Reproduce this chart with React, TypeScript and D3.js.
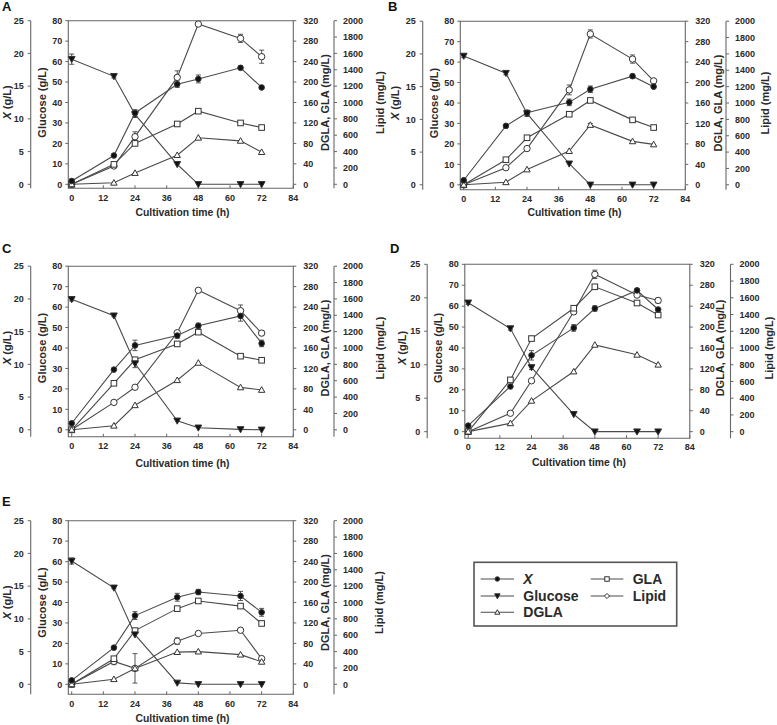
import React from 'react';
import * as d3 from 'd3';

const PANEL_LABELS = ['A', 'B', 'C', 'D', 'E'];
const TIME_H = [0, 16, 24, 40, 48, 64, 72];
const TIME_TICKS = [0, 12, 24, 36, 48, 60, 72, 84];
const X_TICKS = [0, 5, 10, 15, 20, 25];
const GLUCOSE_TICKS = [0, 10, 20, 30, 40, 50, 60, 70, 80];
const FA_TICKS = [0, 40, 80, 120, 160, 200, 240, 280, 320];
const LIPID_TICKS = [0, 200, 400, 600, 800, 1000, 1200, 1400, 1600, 1800, 2000];

// Biomass X (g/L), one row per panel A..E
const X_BIOMASS = [
  [0.5, 4.4, 10.9, 15.3, 16.1, 17.8, 14.8],
  [0.7, 9.0, 11.0, 12.6, 14.6, 16.6, 15.0],
  [1.0, 9.2, 12.9, 14.4, 15.9, 17.4, 13.2],
  [0.9, 6.75, 11.4, 15.5, 18.4, 21.1, 18.25],
  [0.6, 5.6, 10.5, 13.3, 14.1, 13.5, 11.0],
];
const X_ERR = [
  [0.3, 0, 0.5, 0.5, 0.6, 0.3, 0],
  [0, 0, 0.4, 0.5, 0.5, 0.3, 0],
  [0, 0, 0.8, 0.4, 0.4, 0.8, 0.5],
  [0, 0, 0.7, 0.5, 0.4, 0.3, 0],
  [0, 0, 0.6, 0.6, 0.4, 0.7, 0.6],
];
// Glucose (g/L)
const GLUCOSE = [
  [61.2, 52.8, 34.2, 9.8, 0, 0, 0],
  [63.0, 54.6, 34.9, 10.3, 0, 0, 0],
  [63.8, 55.8, 32.4, 4.4, 1.0, 0.2, 0],
  [61.6, 49.3, 30.7, 8.3, 0, 0, 0],
  [60.3, 47.2, 24.3, 0.7, 0, 0, 0],
];
const GLUCOSE_ERR = [
  [2.5, 0.8, 1.5, 0, 0, 0, 0],
  [0.8, 0.8, 1.5, 0, 0, 0, 0],
  [0.8, 0.5, 2.0, 0, 0, 0, 0],
  [0.8, 0.8, 1.0, 0, 0, 0, 0],
  [1.5, 0.5, 0, 0, 0, 0, 0],
];
// DGLA (mg/L)
const DGLA = [
  [0, 3, 22, 57, 91, 85, 63],
  [0, 5, 30, 66, 117, 85, 79],
  [0, 8, 48, 97, 131, 83, 78],
  [0, 16, 59, 115, 166, 147, 128],
  [0, 10, 31, 63, 64, 58, 44],
];
const DGLA_ERR = [
  [0, 0, 0, 0, 0, 0, 0],
  [0, 0, 0, 0, 3, 0, 0],
  [0, 0, 0, 0, 0, 0, 0],
  [0, 0, 0, 0, 0, 0, 0],
  [0, 0, 0, 0, 0, 0, 0],
];
// GLA (mg/L)
const GLA = [
  [0, 39, 80, 118, 143, 120, 111],
  [0, 49, 92, 138, 165, 127, 112],
  [0, 91, 137, 168, 191, 144, 136],
  [0, 99, 178, 236, 277, 246, 223],
  [0, 50, 105, 148, 163, 153, 119],
];
const GLA_ERR = [
  [0, 0, 0, 0, 0, 0, 0],
  [0, 0, 0, 0, 0, 0, 0],
  [0, 0, 0, 0, 0, 0, 0],
  [0, 0, 0, 0, 0, 0, 0],
  [0, 0, 0, 0, 0, 0, 0],
];
// Lipid (mg/L)
const LIPID = [
  [0, 224, 582, 1307, 1959, 1784, 1560],
  [0, 209, 443, 1160, 1844, 1537, 1270],
  [0, 335, 520, 1186, 1705, 1456, 1182],
  [0, 220, 608, 1432, 1880, 1632, 1568],
  [0, 280, 195, 527, 621, 661, 314],
];
const LIPID_ERR = [
  [0, 0, 60, 80, 0, 50, 80],
  [0, 0, 0, 60, 50, 50, 0],
  [0, 0, 0, 0, 0, 70, 30],
  [0, 0, 0, 0, 50, 0, 30],
  [0, 40, 180, 40, 0, 0, 0],
];

// layout of each panel on the page
const LAYOUT = [
  { ox: 0, oy: 0, sy: 1, lx: 2, ly: 11, tickDy: 13, titleDy: 28.4, xT: 11, fT: 329, lT: 384 },
  { ox: 392, oy: 0.5, sy: 1, lx: 388, ly: 10.7, tickDy: 14, titleDy: 27.6, xT: 7, fT: 330, lT: 377 },
  { ox: 0, oy: 245.5, sy: 1, lx: 2, ly: 253.3, tickDy: 16, titleDy: 33.5, xT: 11, fT: 329, lT: 384 },
  { ox: 396.5, oy: 243.6, sy: 1.023, lx: 390, ly: 253.3, tickDy: 15.6, titleDy: 30.5, xT: 9, fT: 327.5, lT: 376 },
  { ox: 0, oy: 500, sy: 1, lx: 2, ly: 505.7, tickDy: 19, titleDy: 34.3, xT: 11, fT: 329, lT: 383 },
];

const FONT = '"Liberation Sans", Arial, Helvetica, sans-serif';
const TEXT = '#2a2a2a';
const AXIS = '#666';
const LINE = '#4a4a4a';

type MType = 'dot' | 'tri' | 'otri' | 'sq' | 'circ' | 'diam';

function Marker({ t, x, y, s = 1 }: { t: MType; x: number; y: number; s?: number }) {
  const st = { stroke: '#333', strokeWidth: 1 };
  if (t === 'dot') return <circle cx={x} cy={y} r={2.8 * s} fill="#111" {...st} />;
  if (t === 'tri') {
    const a = 3.4 * s;
    return <path d={`M${x - a},${y - a * 0.8}L${x + a},${y - a * 0.8}L${x},${y + a}Z`} fill="#111" {...st} />;
  }
  if (t === 'otri') {
    const a = 3.2 * s;
    return <path d={`M${x - a},${y + a * 0.75}L${x + a},${y + a * 0.75}L${x},${y - a}Z`} fill="#fff" {...st} />;
  }
  if (t === 'sq') {
    const a = 2.8 * s;
    return <rect x={x - a} y={y - a} width={2 * a} height={2 * a} fill="#fff" {...st} />;
  }
  if (t === 'diam') {
    const a = 3.2 * s;
    return <path d={`M${x},${y - a}L${x + a},${y}L${x},${y + a}L${x - a},${y}Z`} fill="#fff" {...st} />;
  }
  return <circle cx={x} cy={y} r={3.2 * s} fill="#fff" {...st} />;
}

function Panel({ i }: { i: number }) {
  const L = LAYOUT[i];
  const top = 20.7;
  const zero = top + 163.6 * L.sy;
  const bottom = zero + L.tickDy - 9;
  const xAx = 30.7, plotL = 68.3, t0 = 71.7, t84 = 293.3, lipAx = 334;
  const xs = d3.scaleLinear().domain([0, 84]).range([t0, t84]);
  const yX = d3.scaleLinear().domain([0, 25]).range([zero, top]);
  const yG = d3.scaleLinear().domain([0, 80]).range([zero, top]);
  const yF = d3.scaleLinear().domain([0, 320]).range([zero, top]);
  const yL = d3.scaleLinear().domain([0, 2000]).range([zero, top]);
  const ymid = (top + zero) / 2;

  const series = [
    { vals: LIPID[i], err: LIPID_ERR[i], y: yL, m: 'circ' as MType },
    { vals: GLA[i], err: GLA_ERR[i], y: yF, m: 'sq' as MType },
    { vals: DGLA[i], err: DGLA_ERR[i], y: yF, m: 'otri' as MType },
    { vals: GLUCOSE[i], err: GLUCOSE_ERR[i], y: yG, m: 'tri' as MType },
    { vals: X_BIOMASS[i], err: X_ERR[i], y: yX, m: 'dot' as MType },
  ];

  const tickText = { fontFamily: FONT, fontWeight: 700, fontSize: 9, fill: TEXT } as const;
  const titleText = { fontFamily: FONT, fontWeight: 700, fontSize: 11, fill: TEXT } as const;

  return (
    <g>
      <text x={L.lx} y={L.ly} style={{ fontFamily: FONT, fontWeight: 700, fontSize: 13, fill: '#111' }}>
        {PANEL_LABELS[i]}
      </text>
      <g transform={`translate(${L.ox},${L.oy})`}>
        {/* plot frame */}
        <path d={`M${plotL},${bottom}V${top}H${t84}V${bottom}Z`} fill="none" stroke={AXIS} strokeWidth={1.1} />
        {/* X axis (far left) */}
        <line x1={xAx} x2={xAx} y1={top} y2={bottom} stroke={AXIS} strokeWidth={1.1} />
        {X_TICKS.map((v) => (
          <g key={'x' + v}>
            <line x1={xAx - 3} x2={xAx} y1={yX(v)} y2={yX(v)} stroke={AXIS} />
            <text x={xAx - 7} y={yX(v) + 3.2} textAnchor="end" style={tickText}>{v}</text>
          </g>
        ))}
        <text transform={`translate(${L.xT},${ymid}) rotate(-90)`} textAnchor="middle" style={titleText}>
          <tspan fontStyle="italic">X</tspan> (g/L)
        </text>
        {/* Glucose axis */}
        {GLUCOSE_TICKS.map((v) => (
          <g key={'g' + v}>
            <line x1={plotL - 3} x2={plotL} y1={yG(v)} y2={yG(v)} stroke={AXIS} />
            <text x={plotL - 6} y={yG(v) + 3.2} textAnchor="end" style={tickText}>{v}</text>
          </g>
        ))}
        <text transform={`translate(${45.5},${ymid}) rotate(-90)`} textAnchor="middle" style={titleText}>
          Glucose (g/L)
        </text>
        {/* DGLA, GLA axis */}
        {FA_TICKS.map((v) => (
          <g key={'f' + v}>
            <line x1={t84} x2={t84 + 3} y1={yF(v)} y2={yF(v)} stroke={AXIS} />
            <text x={t84 + 10} y={yF(v) + 3.2} textAnchor="start" style={tickText}>{v}</text>
          </g>
        ))}
        <text transform={`translate(${L.fT},${ymid}) rotate(-90)`} textAnchor="middle" style={titleText}>
          DGLA, GLA (mg/L)
        </text>
        {/* Lipid axis */}
        <line x1={lipAx} x2={lipAx} y1={top} y2={bottom} stroke={AXIS} strokeWidth={1.1} />
        {LIPID_TICKS.map((v) => (
          <g key={'l' + v}>
            <line x1={lipAx} x2={lipAx + 3} y1={yL(v)} y2={yL(v)} stroke={AXIS} />
            <text x={lipAx + 9} y={yL(v) + 3.2} textAnchor="start" style={tickText}>{v}</text>
          </g>
        ))}
        <text transform={`translate(${L.lT},${ymid}) rotate(-90)`} textAnchor="middle" style={titleText}>
          Lipid (mg/L)
        </text>
        {/* time axis */}
        {TIME_TICKS.map((v) => (
          <g key={'t' + v}>
            <line x1={xs(v)} x2={xs(v)} y1={bottom} y2={bottom - 3} stroke={AXIS} />
            <text x={xs(v)} y={zero + L.tickDy + 3.2} textAnchor="middle" style={tickText}>{v}</text>
          </g>
        ))}
        <text x={(t0 + t84) / 2} y={zero + L.titleDy + 3.6} textAnchor="middle"
          style={{ fontFamily: FONT, fontWeight: 700, fontSize: 10.4, fill: TEXT }}>
          Cultivation time (h)
        </text>
        {/* series lines */}
        {series.map((s, k) => {
          const line = d3.line<number>().x((_, j) => xs(TIME_H[j])).y((d) => s.y(d));
          return <path key={'p' + k} d={line(s.vals) || ''} fill="none" stroke={LINE} strokeWidth={1.1} />;
        })}
        {/* error bars */}
        {series.map((s, k) =>
          s.vals.map((v, j) =>
            s.err[j] > 0 ? (
              <g key={'e' + k + '-' + j} stroke="#444" strokeWidth={0.9}>
                <line x1={xs(TIME_H[j])} x2={xs(TIME_H[j])} y1={s.y(v - s.err[j])} y2={s.y(v + s.err[j])} />
                <line x1={xs(TIME_H[j]) - 2.5} x2={xs(TIME_H[j]) + 2.5} y1={s.y(v + s.err[j])} y2={s.y(v + s.err[j])} />
                <line x1={xs(TIME_H[j]) - 2.5} x2={xs(TIME_H[j]) + 2.5} y1={s.y(v - s.err[j])} y2={s.y(v - s.err[j])} />
              </g>
            ) : null
          )
        )}
        {/* markers */}
        {series.map((s, k) =>
          s.vals.map((v, j) => <Marker key={'m' + k + '-' + j} t={s.m} x={xs(TIME_H[j])} y={s.y(v)} />)
        )}
      </g>
    </g>
  );
}

const LEGEND_ITEMS: { label: string; m: MType; italic?: boolean }[] = [
  { label: 'X', m: 'dot', italic: true },
  { label: 'Glucose', m: 'tri' },
  { label: 'DGLA', m: 'otri' },
  { label: 'GLA', m: 'sq' },
  { label: 'Lipid', m: 'diam' },
];

function Legend() {
  const rows = [579, 596, 612.3];
  const cols = [{ l1: 480.7, l2: 514, tx: 523.3 }, { l1: 590.7, l2: 623.3, tx: 632.7 }];
  return (
    <g>
      <rect x={474} y={562.3} width={202.7} height={63.7} fill="#fff" stroke="#555" strokeWidth={1.6} />
      {LEGEND_ITEMS.map((it, k) => {
        const c = cols[k < 3 ? 0 : 1];
        const y = rows[k < 3 ? k : k - 3];
        const mx = (c.l1 + c.l2) / 2;
        return (
          <g key={it.label}>
            <line x1={c.l1} x2={c.l2} y1={y} y2={y} stroke={LINE} strokeWidth={1.1} />
            <Marker t={it.m} x={mx} y={y} s={0.8} />
            <text x={c.tx} y={y + 5} style={{ fontFamily: FONT, fontWeight: 700, fontSize: 14, fill: TEXT, fontStyle: it.italic ? 'italic' : 'normal' }}>
              {it.label}
            </text>
          </g>
        );
      })}
    </g>
  );
}

export default function App() {
  return (
    <svg width={777} height={725} viewBox="0 0 777 725"
      style={{ position: 'absolute', left: 0, top: 0, background: '#fff', display: 'block' }}>
      <rect x={0} y={0} width={777} height={725} fill="#fff" />
      {PANEL_LABELS.map((_, i) => <Panel key={i} i={i} />)}
      <Legend />
    </svg>
  );
}
